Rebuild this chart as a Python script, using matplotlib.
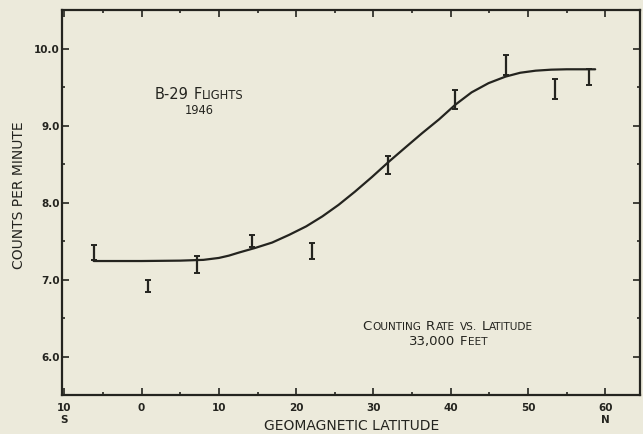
import matplotlib
matplotlib.use("Agg")
import matplotlib.pyplot as plt
from matplotlib.offsetbox import TextArea, HPacker, VPacker, AnnotationBbox
from matplotlib.ticker import MultipleLocator, FixedLocator

# ---- data ----
point_lat = [-6.1, 0.8, 7.2, 14.3, 22.1, 31.9, 40.6, 47.1, 53.5, 57.9]
point_rate = [7.35, 6.92, 7.20, 7.50, 7.37, 8.49, 9.34, 9.785, 9.48, 9.63]
point_err = [0.10, 0.08, 0.11, 0.08, 0.11, 0.12, 0.12, 0.135, 0.13, 0.10]

curve_lat = [-6.2, 0, 5, 8, 10, 11.3, 12.6, 14.7, 16.9, 19.1, 21.3, 23.4,
             25.5, 27.6, 29.8, 32.0, 34.2, 36.3, 38.5, 40.6, 42.7, 44.9,
             47.1, 49.0, 51.0, 53.0, 55.0, 58.7]
curve_rate = [7.24, 7.24, 7.245, 7.255, 7.28, 7.31, 7.35, 7.41, 7.48, 7.58,
              7.69, 7.82, 7.97, 8.14, 8.33, 8.53, 8.72, 8.90, 9.08, 9.27,
              9.43, 9.55, 9.635, 9.685, 9.712, 9.725, 9.73, 9.73]

x_ticks = [-10, 0, 10, 20, 30, 40, 50, 60]
x_ticklabels = ["10\nS", "0", "10", "20", "30", "40", "50", "60\nN"]
y_ticks = [6.0, 7.0, 8.0, 9.0, 10.0]
y_ticklabels = ["6.0", "7.0", "8.0", "9.0", "10.0"]

BG = "#ECEADB"
INK = "#24241f"

fig = plt.figure(figsize=(6.43, 4.35), dpi=100, facecolor=BG)
ax = fig.add_axes([62/643, 39/435, (640-62)/643, (396-11)/435])
ax.set_facecolor(BG)

ax.plot(curve_lat, curve_rate, color=INK, lw=1.6, solid_capstyle="round",
        solid_joinstyle="round")
ax.errorbar(point_lat, point_rate, yerr=point_err, fmt="none", ecolor=INK,
            elinewidth=1.6, capsize=2.2, capthick=1.4)

ax.set_xlim(-10.3, 64.5)
ax.set_ylim(5.5, 10.5)
ax.xaxis.set_major_locator(FixedLocator(x_ticks))
ax.set_xticklabels(x_ticklabels)
ax.xaxis.set_minor_locator(MultipleLocator(5))
ax.yaxis.set_major_locator(FixedLocator(y_ticks))
ax.set_yticklabels(y_ticklabels)
ax.yaxis.set_minor_locator(MultipleLocator(0.5))

for s in ax.spines.values():
    s.set_color(INK)
    s.set_linewidth(1.6)

ax.tick_params(which="both", direction="in", top=True, right=True, color=INK,
               width=1.2)
ax.tick_params(which="major", length=5)
ax.tick_params(which="minor", length=2.5)
ax.tick_params(axis="x", which="major", pad=5, labelsize=7.5, labelcolor=INK)
ax.tick_params(axis="y", which="major", pad=1.5, labelsize=7.5, labelcolor=INK)
for lab in ax.get_xticklabels() + ax.get_yticklabels():
    lab.set_fontweight("bold")
    lab.set_family("DejaVu Sans")
for lab in ax.get_xticklabels():
    lab.set_linespacing(1.3)

ax.set_xlabel("GEOMAGNETIC LATITUDE", fontsize=10, color=INK, labelpad=10,
              family="DejaVu Sans")
ax.xaxis.set_label_coords((352-62)/(640-62), -0.06)
ax.set_ylabel("COUNTS PER MINUTE", fontsize=10, color=INK,
              family="DejaVu Sans")
ax.yaxis.set_label_coords(-(62-26)/(640-62), (396-195)/385)


def small_caps_line(words, big=10.0, small=7.8, gap=4.0):
    packs = []
    for w in words:
        parts = []
        for head, tail in w:
            if head:
                parts.append(TextArea(head, textprops=dict(size=big, color=INK,
                                                           family="DejaVu Sans")))
            if tail:
                parts.append(TextArea(tail, textprops=dict(size=small, color=INK,
                                                           family="DejaVu Sans")))
        packs.append(HPacker(children=parts, align="baseline", pad=0, sep=0.3))
    return HPacker(children=packs, align="baseline", pad=0, sep=gap)


line1 = small_caps_line([[("B-29", "")], [("F", "LIGHTS")]], big=10.5, small=8.3)
line2 = small_caps_line([[("", "1946")]], small=8.3)
box1 = VPacker(children=[line1, line2], align="center", pad=0, sep=2)
ab1 = AnnotationBbox(box1, ((199-62)/578, (396-102)/385), xycoords="axes fraction",
                     frameon=False, box_alignment=(0.5, 0.5))
ax.add_artist(ab1)

line3 = small_caps_line([[("C", "OUNTING")], [("R", "ATE")], [("", "VS.")],
                         [("L", "ATITUDE")]], big=9.5, small=7.6, gap=3.5)
line4 = small_caps_line([[("33,000", "")], [("F", "EET")]], big=9.5, small=7.6,
                        gap=3.5)
box2 = VPacker(children=[line3, line4], align="center", pad=0, sep=2)
ab2 = AnnotationBbox(box2, ((448-62)/578, (396-334)/385), xycoords="axes fraction",
                     frameon=False, box_alignment=(0.5, 0.5))
ax.add_artist(ab2)

fig.savefig("out.png", dpi=100, facecolor=BG)
